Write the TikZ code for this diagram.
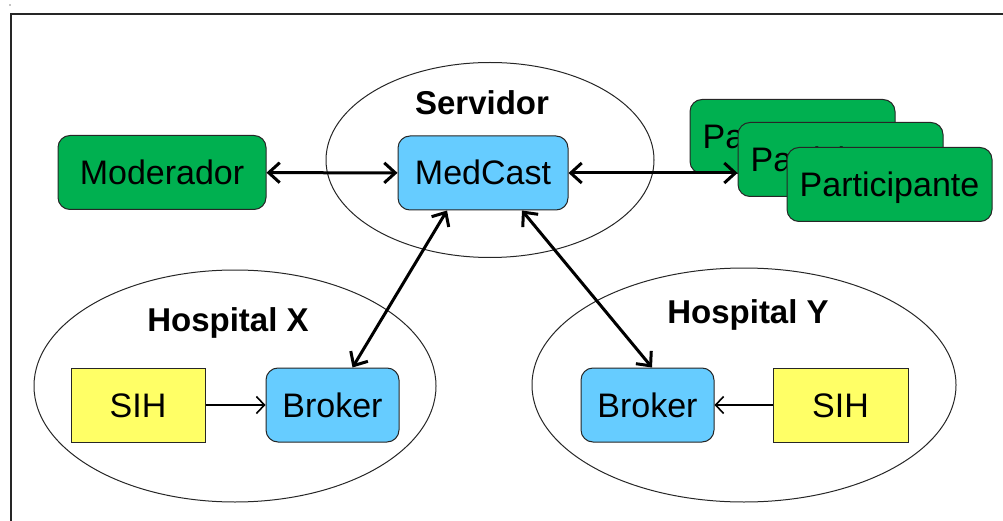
\documentclass[tikz,border=0pt]{standalone}
\usepackage{fontspec}
\setmainfont{Liberation Sans}
\usetikzlibrary{arrows.meta, positioning, shapes.geometric}

\definecolor{modgreen}{RGB}{0,176,80}
\definecolor{srvblue}{RGB}{102,204,255}
\definecolor{sihyellow}{RGB}{255,255,102}

\tikzset{
    box/.style={draw=black!85, line width=1pt, inner sep=0pt, minimum height=74pt,
        text height=24pt, text depth=0pt, font=\fontsize{34}{40}\selectfont},
    roundbox/.style={box, rounded corners=12pt},
    zone/.style={draw=black!85, line width=1pt, ellipse, inner sep=0pt},
    zonelabel/.style={font=\fontsize{33}{39}\selectfont\bfseries},
    link/.style={line width=3pt, {Straight Barb[length=11pt, width=20pt]}-{Straight Barb[length=11pt, width=20pt]}},
    feed/.style={line width=1.6pt, -{Straight Barb[length=8pt, width=17pt]}}
}

\begin{document}
\begin{tikzpicture}[x=1pt, y=-1pt]
    \useasboundingbox (0,0) rectangle (1003,521);
    \draw[line width=2.2pt, black!85] (1003,14) -- (11,14) -- (11,521);
    \fill (10,5) circle (0.6pt);

    % areas
    \node[zone, minimum width=328pt, minimum height=195pt] (srv) at (490,160) {};
    \node[zonelabel] (srvlabel) at (482,103) {Servidor};
    \node[zone, minimum width=402pt, minimum height=232pt] (hx) at (235,386) {};
    \node[zonelabel] (hxlabel) at (228,323) {Hospital X};
    \node[zone, minimum width=424pt, minimum height=234pt] (hy) at (744,385) {};
    \node[zonelabel] (hylabel) at (748,315) {Hospital Y};

    % boxes
    \node[roundbox, fill=modgreen, minimum width=208pt] (mod) at (162,172.5) {Moderador};
    \node[roundbox, fill=srvblue, minimum width=170pt] (med) at (483,173) {MedCast};
    \node[roundbox, fill=modgreen, minimum width=205pt] (part1) at (792.5,136.5) {Participante};
    \node[roundbox, fill=modgreen, minimum width=205pt] (part2) at (840.5,159.5) {Participante};
    \node[roundbox, fill=modgreen, minimum width=205pt] (part3) at (889.5,184.5) {Participante};

    \node[box, fill=sihyellow, minimum width=134pt] (sihx) at (138,405) {SIH};
    \node[roundbox, fill=srvblue, minimum width=133pt] (bx) at (332.5,405) {Broker};
    \node[roundbox, fill=srvblue, minimum width=133pt] (by) at (647.5,405) {Broker};
    \node[box, fill=sihyellow, minimum width=135pt] (sihy) at (840.5,405) {SIH};

    % links
    \draw[link] (mod) -- (med);
    \draw[link] (med) -- (part2.west |- med.east);
    \draw[link] ([xshift=-36pt]med.south) -- ([xshift=20pt]bx.north);
    \draw[link] ([xshift=39pt]med.south) -- ([xshift=4.5pt]by.north);
    \draw[feed] (sihx) -- (bx);
    \draw[feed] (sihy) -- (by);
\end{tikzpicture}
\end{document}
